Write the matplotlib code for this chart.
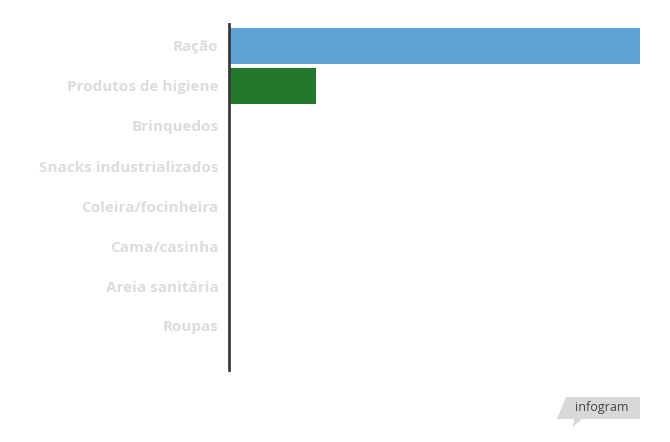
import matplotlib.pyplot as plt
from matplotlib.patches import Polygon

# -----------------------------------------
# DATA
# -----------------------------------------
categories = [
    "Ração",
    "Produtos de higiene",
    "Brinquedos",
    "Snacks industrializados",
    "Coleira/focinheira",
    "Cama/casinha",
    "Areia sanitária",
    "Roupas",
]

values = [100, 21.2, 0, 0, 0, 0, 0, 0]

bar_colors = ["#5ea5d6", "#24782c", "#5ea5d6", "#5ea5d6",
              "#5ea5d6", "#5ea5d6", "#5ea5d6", "#5ea5d6"]

W, H = 670, 442

# -----------------------------------------
# FIGURE
# -----------------------------------------
fig = plt.figure(figsize=(W / 100, H / 100), dpi=100)

ax = fig.add_axes([229 / W, 1 - 370 / H, (640 - 229) / W, (370 - 24) / H])

ypos = list(range(len(categories)))

ax.barh(ypos, values, height=0.9, color=bar_colors)

ax.set_xlim(0, 100)
ax.set_ylim(8.1, -0.55)

ax.set_yticks(ypos)
ax.set_yticklabels(categories, fontsize=11, fontweight="bold",
                   color="#dcdcdc", family=["Open Sans", "DejaVu Sans"])
ax.tick_params(axis="y", length=0, pad=7.5)
ax.set_xticks([])

for side in ["top", "right", "bottom"]:
    ax.spines[side].set_visible(False)

ax.spines["left"].set_color("#3a3a3a")
ax.spines["left"].set_linewidth(2)

# -----------------------------------------
# INFOGRAM BADGE
# -----------------------------------------
badge = [
    (566, 397), (640, 397), (640, 419), (582, 419),
    (573, 427), (574, 419), (557, 419),
]

badge_pts = [(x / W, 1 - y / H) for x, y in badge]

fig.patches.append(
    Polygon(badge_pts, closed=True, transform=fig.transFigure,
            facecolor="#d8d8d8", edgecolor="none")
)

fig.text(602 / W, 1 - 408 / H, "infogram", fontsize=9,
         color="#444444", ha="center", va="center",
         family=["Open Sans", "DejaVu Sans"])

fig.savefig("out.png", dpi=100)
